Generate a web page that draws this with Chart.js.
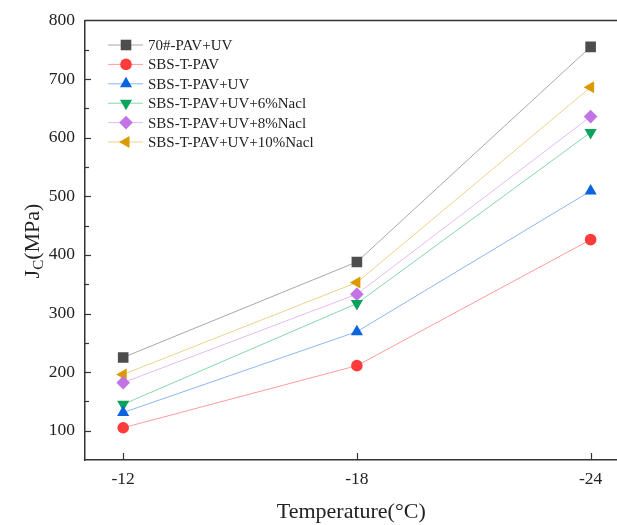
<!DOCTYPE html>
<html>
<head>
<meta charset="utf-8">
<script src="https://cdn.jsdelivr.net/npm/chart.js@4.4.1/dist/chart.umd.min.js"></script>
<style>
  html, body { margin: 0; padding: 0; background: #fff; overflow: hidden; }
  #wrap { width: 617px; height: 525px; overflow: hidden; }
  #jc { display: block; }
</style>
</head>
<body>
<div id="wrap"><canvas id="jc" width="625" height="525"></canvas></div>
<script>
// data
const temps = [-12, -18, -24];
const pav70uv = [225, 388, 755];
const sbsPav = [105, 211, 426];
const sbsPavUv = [131, 269, 509];
const nacl6 = [145, 317, 609];
const nacl8 = [182, 333, 636];
const nacl10 = [196, 353, 686];
const yTicks = [100, 200, 300, 400, 500, 600, 700, 800];

const serif = "'Liberation Serif', 'Times New Roman', serif";

function pts(vals) {
  return temps.map((t, i) => ({ x: t, y: vals[i] }));
}

function series(label, vals, line, mark, style, radius, rotation) {
  return {
    label: label,
    data: pts(vals),
    borderColor: line,
    borderWidth: 1,
    backgroundColor: mark,
    pointBackgroundColor: mark,
    pointBorderColor: mark,
    pointBorderWidth: 0,
    pointStyle: style,
    pointRadius: radius,
    pointRotation: rotation || 0,
    tension: 0
  };
}

// inward ticks, top border, y title with subscript, legend with line + marker
const decorPlugin = {
  id: 'decor',
  afterDraw(chart) {
    const c = chart.ctx;
    const a = chart.chartArea;
    const xs = chart.scales.x, ys = chart.scales.y;
    c.save();
    c.strokeStyle = '#333';
    c.lineWidth = 1.5;
    // top border
    c.beginPath();
    c.moveTo(a.left, a.top);
    c.lineTo(chart.width, a.top);
    c.stroke();
    // y ticks (major + minor)
    c.lineWidth = 1.2;
    for (let v = 100; v < 800; v += 50) {
      const y = Math.round(ys.getPixelForValue(v)) + 0.5;
      const len = v % 100 === 0 ? 6 : 4;
      c.beginPath();
      c.moveTo(a.left, y);
      c.lineTo(a.left + len, y);
      c.stroke();
    }
    // x ticks
    temps.forEach(t => {
      const x = Math.round(xs.getPixelForValue(t)) + 0.5;
      c.beginPath();
      c.moveTo(x, a.bottom);
      c.lineTo(x, a.bottom - 7);
      c.stroke();
    });
    // y title  J_C(MPa)
    c.translate(33, 241);
    c.rotate(-Math.PI / 2);
    c.fillStyle = '#222';
    c.textBaseline = 'middle';
    c.font = '22px ' + serif;
    const wJ = c.measureText('J').width;
    c.font = '15px ' + serif;
    const wC = c.measureText('C').width;
    c.font = '22px ' + serif;
    const wR = c.measureText('(MPa)').width;
    let x0 = -(wJ + wC + wR) / 2;
    c.textAlign = 'left';
    c.fillText('J', x0, 0);
    c.font = '15px ' + serif;
    c.fillText('C', x0 + wJ, 6);
    c.font = '22px ' + serif;
    c.fillText('(MPa)', x0 + wJ + wC, 0);
    c.restore();

    // legend
    c.save();
    c.font = '15px ' + serif;
    c.textBaseline = 'middle';
    c.textAlign = 'left';
    chart.data.datasets.forEach((ds, i) => {
      const y = 45 + i * 19.4;
      c.strokeStyle = ds.borderColor;
      c.lineWidth = 1;
      c.beginPath();
      c.moveTo(108, y);
      c.lineTo(143, y);
      c.stroke();
      c.fillStyle = ds.pointBackgroundColor;
      c.strokeStyle = ds.pointBackgroundColor;
      c.lineWidth = 0;
      Chart.helpers.drawPoint(c, {
        pointStyle: ds.pointStyle,
        radius: ds.pointRadius,
        rotation: ds.pointRotation,
        borderWidth: 0
      }, 126, y);
      c.fillStyle = '#222';
      c.fillText(ds.label, 148, y + 1);
    });
    c.restore();
  }
};

new Chart(document.getElementById('jc'), {
  type: 'line',
  data: {
    datasets: [
      series('70#-PAV+UV', pav70uv, '#a8a8a8', '#4d4d4d', 'rect', 7.5),
      series('SBS-T-PAV', sbsPav, '#ff9c9c', '#ff3b3b', 'circle', 5.8),
      series('SBS-T-PAV+UV', sbsPavUv, '#8cb8f0', '#0a64e0', 'triangle', 7),
      series('SBS-T-PAV+UV+6%Nacl', nacl6, '#88d6b0', '#0aa35c', 'triangle', 7, 180),
      series('SBS-T-PAV+UV+8%Nacl', nacl8, '#e2bcf2', '#c274e6', 'rectRot', 6.8),
      series('SBS-T-PAV+UV+10%Nacl', nacl10, '#eed28c', '#da9a00', 'triangle', 7, -90)
    ]
  },
  options: {
    responsive: false,
    animation: false,
    layout: { padding: { top: 20, left: 0, right: 0, bottom: 0 } },
    plugins: {
      legend: { display: false },
      tooltip: { enabled: false }
    },
    scales: {
      x: {
        type: 'linear',
        reverse: true,
        min: -24.69,
        max: -11.02,
        afterBuildTicks: s => { s.ticks = temps.map(v => ({ value: v })); },
        afterFit: s => { s.height = 65; },
        grid: { display: false, drawTicks: false },
        border: { display: true, color: '#333', width: 1.5 },
        ticks: {
          padding: 9,
          color: '#222',
          font: { family: serif, size: 17.5 },
          maxRotation: 0,
          callback: v => String(v)
        },
        title: {
          display: true,
          text: 'Temperature(°C)',
          color: '#222',
          font: { family: serif, size: 22 },
          padding: { top: 0, bottom: 0 }
        }
      },
      y: {
        min: 50,
        max: 800,
        afterBuildTicks: s => { s.ticks = yTicks.map(v => ({ value: v })); },
        afterFit: s => { s.width = 85; },
        grid: { display: false, drawTicks: false },
        border: { display: true, color: '#333', width: 1.5 },
        ticks: {
          padding: 10,
          color: '#222',
          font: { family: serif, size: 17.5 }
        }
      }
    }
  },
  plugins: [decorPlugin]
});
</script>
</body>
</html>
